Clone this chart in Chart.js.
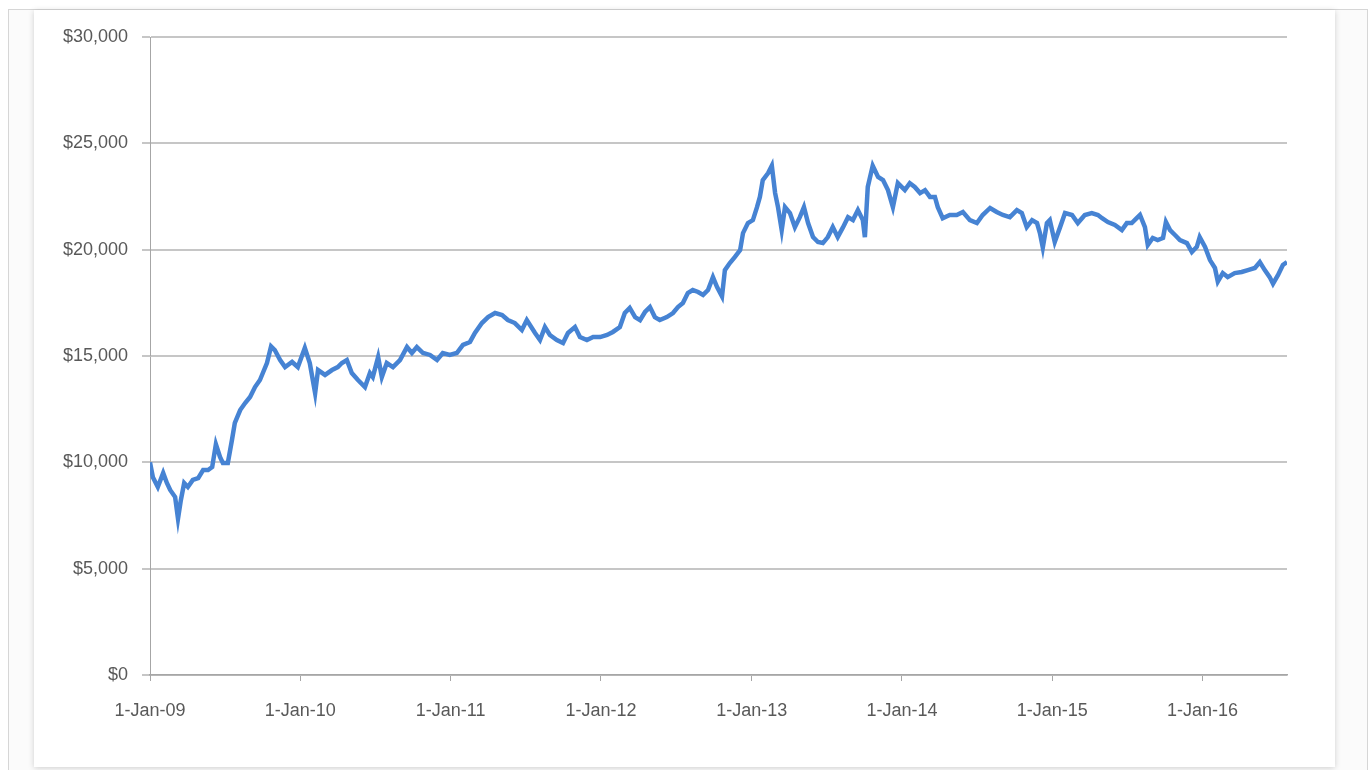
<!DOCTYPE html>
<html lang="en">
  <head>
    <meta charset="UTF-8" />
    <title>Portfolio value</title>
    <script src="https://cdn.jsdelivr.net/npm/chart.js"></script>
    <style>
      body { margin: 0; background: #fff; overflow: hidden; }
      .frame {
        position: absolute; left: 8px; top: 9px; width: 1358px; height: 780px;
        border: 1px solid #d6d6d6; border-bottom: none; background: #fbfbfb;
      }
      .card {
        position: absolute; left: 34px; top: 10px; width: 1301px; height: 757px;
        background: #fff; box-shadow: 0 1px 6px rgba(0, 0, 0, 0.18);
      }
      .wrap { position: absolute; left: 0; top: 0; width: 1372px; height: 770px; }
    </style>
  </head>
  <body>
    <div class="frame"></div>
    <div class="card"></div>
    <div class="wrap"><canvas id="valueChart"></canvas></div>
    <script>
      // values, roughly every two weeks
      var dates = [
        "2009-01-01","2009-01-08","2009-01-20","2009-02-02","2009-02-11","2009-02-19","2009-03-03","2009-03-10","2009-03-17","2009-03-25",
        "2009-04-03","2009-04-15","2009-04-28","2009-05-10","2009-05-22","2009-06-01","2009-06-10","2009-06-20","2009-06-27","2009-07-09",
        "2009-07-19","2009-07-26","2009-08-08","2009-08-20","2009-09-01","2009-09-13","2009-09-25","2009-10-02","2009-10-12","2009-10-22",
        "2009-10-31","2009-11-13","2009-11-25","2009-12-12","2009-12-26",
        "2010-01-12","2010-01-24","2010-02-06","2010-02-13","2010-03-02","2010-03-19","2010-04-02","2010-04-12","2010-04-24","2010-05-06",
        "2010-05-21","2010-06-07","2010-06-19","2010-06-26","2010-07-09","2010-07-18","2010-07-30","2010-08-14","2010-08-31","2010-09-17",
        "2010-09-29","2010-10-11","2010-10-26","2010-11-12","2010-11-29","2010-12-13","2010-12-30",
        "2011-01-16","2011-01-31","2011-02-17","2011-03-01","2011-03-18","2011-04-02","2011-04-19","2011-05-06","2011-05-20","2011-06-06",
        "2011-06-23","2011-07-05","2011-07-25","2011-08-06","2011-08-18","2011-08-30","2011-09-16","2011-10-01","2011-10-13","2011-10-30",
        "2011-11-11","2011-11-28","2011-12-13","2011-12-30",
        "2012-01-16","2012-01-30","2012-02-16","2012-02-28","2012-03-11","2012-03-24","2012-04-05","2012-04-17","2012-04-29","2012-05-11",
        "2012-05-23","2012-06-09","2012-06-24","2012-07-06","2012-07-18","2012-07-30","2012-08-11","2012-08-24","2012-09-05","2012-09-17",
        "2012-09-29","2012-10-09","2012-10-21","2012-10-28","2012-11-09","2012-11-21","2012-12-04","2012-12-11","2012-12-23",
        "2013-01-04","2013-01-14","2013-01-21","2013-01-28","2013-02-10","2013-02-19","2013-02-27","2013-03-06","2013-03-15","2013-03-23",
        "2013-04-04","2013-04-16","2013-04-28","2013-05-08","2013-05-18","2013-05-30","2013-06-11","2013-06-23","2013-07-05","2013-07-17",
        "2013-07-29","2013-08-11","2013-08-23","2013-09-04","2013-09-16","2013-09-28","2013-10-03","2013-10-10","2013-10-22","2013-11-04",
        "2013-11-16","2013-11-28","2013-12-10","2013-12-22",
        "2014-01-08","2014-01-20","2014-02-01","2014-02-14","2014-02-26","2014-03-10","2014-03-22","2014-03-29","2014-04-10","2014-04-27",
        "2014-05-14","2014-05-29","2014-06-15","2014-07-02","2014-07-16","2014-08-03","2014-08-19","2014-09-03","2014-09-20","2014-10-07",
        "2014-10-19","2014-10-31","2014-11-13","2014-11-25","2014-12-02","2014-12-09","2014-12-19","2014-12-26",
        "2015-01-07","2015-01-20","2015-02-01","2015-02-18","2015-03-04","2015-03-21","2015-04-07","2015-04-22","2015-05-02","2015-05-16",
        "2015-06-02","2015-06-19","2015-07-01","2015-07-13","2015-07-25","2015-08-02","2015-08-14","2015-08-21","2015-09-02","2015-09-14",
        "2015-09-27","2015-10-04","2015-10-14","2015-10-26","2015-11-07","2015-11-24","2015-12-06","2015-12-18","2015-12-25",
        "2016-01-07","2016-01-19","2016-01-31","2016-02-07","2016-02-19","2016-03-02","2016-03-19","2016-04-05","2016-04-20","2016-05-07",
        "2016-05-19","2016-05-31","2016-06-12","2016-06-20","2016-07-02","2016-07-14","2016-07-24"
      ];
      var values = [
        10000, 9300, 8840, 9500, 9030, 8700, 8370, 7350, 8230, 9030,
        8840, 9170, 9260, 9640, 9640, 9780, 10850, 10250, 9970, 9970,
        11050, 11850, 12460, 12790, 13070, 13540, 13870, 14200, 14670, 15450,
        15280, 14810, 14480, 14720, 14480,
        15380, 14670, 13250, 14340, 14110, 14340, 14480, 14670, 14810, 14200,
        13870, 13540, 14200, 14010, 14950, 14010, 14670, 14480, 14810, 15420,
        15140, 15420, 15140, 15050, 14810, 15140, 15050,
        15140, 15520, 15660, 16080, 16550, 16830, 17020, 16930, 16690, 16550,
        16220, 16690, 16080, 15750, 16360, 15990, 15750, 15610, 16080, 16360,
        15890, 15750, 15890, 15890,
        15990, 16130, 16360, 17020, 17260, 16830, 16690, 17070, 17300, 16830,
        16690, 16830, 17020, 17300, 17490, 17960, 18100, 18010, 17870, 18100,
        18710, 18240, 17800, 19040, 19370, 19650, 19980, 20780, 21250,
        21390, 22000, 22480, 23270, 23600, 23950, 22660, 22000, 20920, 22000,
        21720, 21060, 21530, 22000, 21250, 20590, 20360, 20310, 20590, 21060,
        20590, 21060, 21530, 21390, 21860, 21390, 20590, 22950, 23950, 23420,
        23270, 22800, 22000, 23130,
        22800, 23130, 22950, 22660, 22800, 22480, 22480, 22000, 21480, 21630,
        21630, 21770, 21390, 21250, 21630, 21960, 21770, 21630, 21530, 21860,
        21720, 21060, 21390, 21250, 20780, 20100, 21250, 21390,
        20360, 21060, 21720, 21630, 21250, 21630, 21720, 21630, 21480, 21300,
        21160, 20920, 21250, 21250, 21480, 21630, 21060, 20220, 20550, 20450,
        20550, 21300, 20920, 20690, 20450, 20310, 19890, 20130, 20590,
        20130, 19510, 19140, 18500, 18900, 18710, 18900, 18950, 19040, 19140,
        19420, 19040, 18710, 18400, 18800, 19280, 19420
      ];
      var tickDates = ["2009-01-01", "2010-01-01", "2011-01-01", "2012-01-01", "2013-01-01", "2014-01-01", "2015-01-01", "2016-01-01"];
      var tickLabels = ["1-Jan-09", "1-Jan-10", "1-Jan-11", "1-Jan-12", "1-Jan-13", "1-Jan-14", "1-Jan-15", "1-Jan-16"];

      // days since 1-Jan-09
      function dayNum(s) {
        var p = s.split("-");
        return (Date.UTC(+p[0], +p[1] - 1, +p[2]) - Date.UTC(2009, 0, 1)) / 86400000;
      }

      var points = dates.map(function (d, i) {
        return { x: dayNum(d), y: values[i] };
      });

      var labelFont = { family: "'Liberation Sans', Arial, sans-serif", size: 18 };

      var ctx = document.getElementById("valueChart").getContext("2d");
      new Chart(ctx, {
        type: "line",
        data: {
          datasets: [
            {
              data: points,
              borderColor: "#4683d3",
              borderWidth: 4.5,
              pointRadius: 0,
              tension: 0,
              fill: false,
            },
          ],
        },
        options: {
          responsive: true,
          maintainAspectRatio: false,
          animation: false,
          layout: { padding: { left: 0, top: 37, right: 85, bottom: 0 } },
          plugins: { legend: { display: false }, tooltip: { enabled: false } },
          scales: {
            x: {
              type: "linear",
              min: 0,
              max: dayNum(dates[dates.length - 1]),
              afterBuildTicks: function (scale) {
                scale.ticks = tickDates.map(function (d) {
                  return { value: dayNum(d) };
                });
              },
              afterFit: function (scale) {
                scale.height = 95;
              },
              grid: {
                drawOnChartArea: false,
                color: "#a6a6a6",
                tickLength: 6,
              },
              border: { color: "#a6a6a6", width: 1.5 },
              ticks: {
                autoSkip: false,
                maxRotation: 0,
                padding: 19,
                color: "#595959",
                font: labelFont,
                callback: function (v, i) {
                  return tickLabels[i];
                },
              },
            },
            y: {
              min: 0,
              max: 30000,
              afterFit: function (scale) {
                scale.width = 150;
              },
              grid: { color: "#c6c6c6", lineWidth: 2, tickLength: 8 },
              border: { color: "#a6a6a6", width: 1 },
              ticks: {
                stepSize: 5000,
                padding: 14,
                color: "#595959",
                font: labelFont,
                callback: function (v) {
                  return "$" + v.toLocaleString("en-US");
                },
              },
            },
          },
        },
      });
    </script>
  </body>
</html>
